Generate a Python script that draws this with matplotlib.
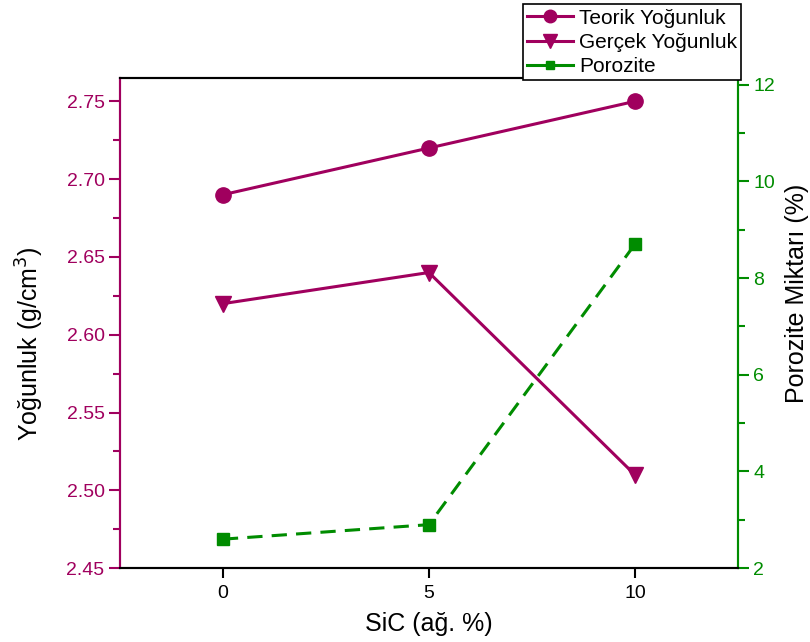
import matplotlib
matplotlib.use("Agg")
import matplotlib.pyplot as plt
from matplotlib.ticker import MultipleLocator
from matplotlib.lines import Line2D

plt.rcParams['font.family'] = ['Liberation Sans', 'DejaVu Sans']

sic = [0, 5, 10]
teorik = [2.69, 2.72, 2.75]
gercek = [2.62, 2.64, 2.51]
porozite = [2.6, 2.9, 8.7]
labels = ['Teorik Yoğunluk', 'Gerçek Yoğunluk', 'Porozite']

purple = '#A0005E'
green = '#008C00'

fig = plt.figure(figsize=(8.1, 6.42), dpi=100)
ax = fig.add_axes([0.148, 0.115, 0.763, 0.7635])
ax2 = ax.twinx()

ax.plot(sic, teorik, '-o', color=purple, lw=2.2, ms=11)
ax.plot(sic, gercek, '-v', color=purple, lw=2.2, ms=12)
ax2.plot(sic, porozite, '--s', color=green, lw=2.2, ms=8, dashes=(5, 3))

ax.set_xlim(-2.5, 12.5)
ax.set_ylim(2.45, 2.765)
ax2.set_ylim(2, 12.14)

ax.set_xticks([0, 5, 10])
ax.set_yticks([2.45, 2.50, 2.55, 2.60, 2.65, 2.70, 2.75])
ax.set_yticklabels(['2.45', '2.50', '2.55', '2.60', '2.65', '2.70', '2.75'])
ax.yaxis.set_minor_locator(MultipleLocator(0.025))
ax2.set_yticks([2, 4, 6, 8, 10, 12])
ax2.yaxis.set_minor_locator(MultipleLocator(1))

ax.tick_params(axis='x', direction='out', length=7, width=1.5, labelsize=14, colors='black', pad=5)
ax.tick_params(axis='y', which='major', direction='out', length=8, width=1.5, labelsize=14,
               colors=purple, pad=3)
ax.tick_params(axis='y', which='minor', direction='out', length=5, width=1.5, colors=purple)
ax2.tick_params(axis='y', which='major', direction='out', length=8, width=1.5, labelsize=14,
                colors=green, pad=3)
ax2.tick_params(axis='y', which='minor', direction='out', length=5, width=1.5, colors=green)

for a in (ax, ax2):
    a.spines['left'].set_color(purple)
    a.spines['right'].set_color(green)
    a.spines['top'].set_color('black')
    a.spines['bottom'].set_color('black')
    for s in a.spines.values():
        s.set_linewidth(1.5)

ax.set_xlabel('SiC (ağ. %)', fontsize=18, labelpad=7)
ax.set_ylabel('Yoğunluk (g/cm$^3$)', fontsize=18)
ax2.set_ylabel('Porozite Miktarı (%)', fontsize=18)
ax.yaxis.set_label_coords(-0.12, 0.459)
ax2.yaxis.set_label_coords(1.076, 0.561)

handles = [
    Line2D([], [], color=purple, lw=2.2, marker='o', ms=9),
    Line2D([], [], color=purple, lw=2.2, marker='v', ms=10),
    Line2D([], [], color=green, lw=2.2, marker='s', ms=6),
]
leg = fig.legend(handles=handles, labels=labels, loc='upper right', bbox_to_anchor=(0.915, 0.993),
                 fontsize=15, frameon=True, fancybox=False, edgecolor='black', framealpha=1,
                 handlelength=2.2, handletextpad=0.3, borderpad=0.2, labelspacing=0.25,
                 borderaxespad=0)
leg.get_frame().set_linewidth(1.2)
leg.set_zorder(10)

fig.savefig('out.png', dpi=100)
